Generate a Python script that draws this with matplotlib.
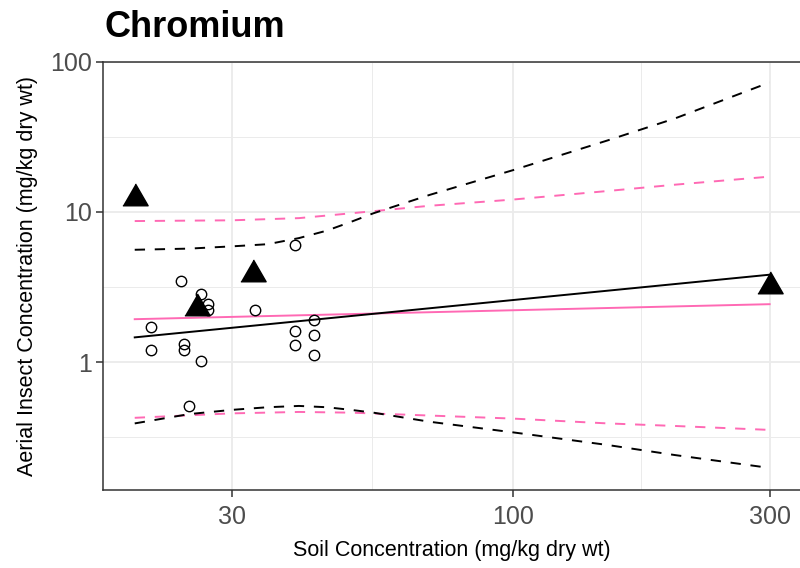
import numpy as np
import matplotlib.pyplot as plt
from matplotlib.ticker import FixedLocator, NullFormatter

plt.rcParams['font.family'] = ['Liberation Sans', 'DejaVu Sans']

# observed insect samples (open circles)
soil_obs = [24.1, 26.3, 27.1, 27.1, 33.1, 21.2, 21.2, 24.4, 24.4, 26.3,
            39.4, 39.4, 39.4, 42.6, 42.6, 42.6, 24.95]
insect_obs = [3.49, 2.82, 2.42, 2.21, 2.21, 1.70, 1.20, 1.32, 1.20, 1.02,
              6.04, 1.60, 1.30, 1.90, 1.51, 1.11, 0.51]

# literature / summary values (filled triangles)
soil_tri = [19.8, 25.9, 32.8, 300]
insect_tri = [12.4, 2.28, 3.88, 3.19]

# fitted lines
fit_x = [19.8, 300]
fit_black = [1.46, 3.82]
fit_pink = [1.93, 2.43]

# prediction bands
band_x_black = [19.8, 25, 30, 35, 40, 45, 50, 55, 70, 100, 150, 200, 300]
upper_black = [5.6, 5.7, 5.9, 6.1, 6.7, 7.5, 8.6, 9.8, 13.0, 19.0, 30.0, 42.0, 73.0]
lower_black = [0.39, 0.45, 0.48, 0.50, 0.51, 0.50, 0.48, 0.46, 0.40, 0.34, 0.28, 0.24, 0.197]

band_x_pink = [19.8, 30, 40, 50, 70, 100, 150, 200, 300]
upper_pink = [8.7, 8.8, 9.1, 9.8, 11.0, 12.1, 13.8, 15.2, 17.2]
lower_pink = [0.425, 0.455, 0.465, 0.46, 0.44, 0.42, 0.39, 0.375, 0.353]

pink = '#FF69B4'
dash = (0, (5.3, 5))

fig = plt.figure(figsize=(8, 5.68), dpi=100)
ax = fig.add_axes([0.129, 0.137, 0.873, 0.754])

ax.set_xscale('log')
ax.set_yscale('log')
ax.set_xlim(17.3, 344)
ax.set_ylim(0.14, 100)

# grid like theme_bw
ax.xaxis.set_major_locator(FixedLocator([30, 100, 300]))
ax.xaxis.set_minor_locator(FixedLocator([np.sqrt(30 * 100), np.sqrt(100 * 300)]))
ax.yaxis.set_major_locator(FixedLocator([1, 10, 100]))
ax.yaxis.set_minor_locator(FixedLocator([10 ** -0.5, 10 ** 0.5, 10 ** 1.5]))
ax.xaxis.set_major_formatter(plt.FuncFormatter(lambda v, p: '%g' % v))
ax.yaxis.set_major_formatter(plt.FuncFormatter(lambda v, p: '%g' % v))
ax.xaxis.set_minor_formatter(NullFormatter())
ax.yaxis.set_minor_formatter(NullFormatter())
ax.grid(which='major', color='#EBEBEB', linewidth=1.3)
ax.grid(which='minor', color='#EBEBEB', linewidth=0.7)
ax.set_axisbelow(True)
ax.tick_params(which='minor', length=0)
ax.tick_params(which='major', length=5, width=1.1, color='#333333',
               labelsize=18, labelcolor='#4D4D4D', pad=3)
ax.tick_params(axis='x', pad=6)
for s in ax.spines.values():
    s.set_color('#333333')
    s.set_linewidth(1.1)

ax.plot(band_x_pink, upper_pink, color=pink, lw=1.4, ls=dash)
ax.plot(band_x_pink, lower_pink, color=pink, lw=1.4, ls=dash)
ax.plot(band_x_black, upper_black, color='black', lw=1.4, ls=dash)
ax.plot(band_x_black, lower_black, color='black', lw=1.4, ls=dash)
ax.plot(fit_x, fit_pink, color=pink, lw=1.4)
ax.plot(fit_x, fit_black, color='black', lw=1.4)

ax.plot(soil_obs, insect_obs, 'o', mfc='none', mec='black', mew=1.0, ms=7.5)
tri = [(-1, -0.577), (1, -0.577), (0, 1.155)]
ax.plot(soil_tri, insect_tri, ls='none', marker=tri, color='black', ms=21)

ax.set_xlabel('Soil Concentration (mg/kg dry wt)', fontsize=15.5)
ax.set_ylabel('Aerial Insect Concentration (mg/kg dry wt)', fontsize=15.5)
ax.xaxis.set_label_coords(0.5 * (291 + 613) / 800 / 0.873 - 0.129 / 0.873, -0.117)
ax.yaxis.set_label_coords(-0.093, 0.5)
fig.text(0.131, 0.952, 'Chromium', fontsize=26, fontweight='bold', va='center')

fig.savefig('out.png', dpi=100)
